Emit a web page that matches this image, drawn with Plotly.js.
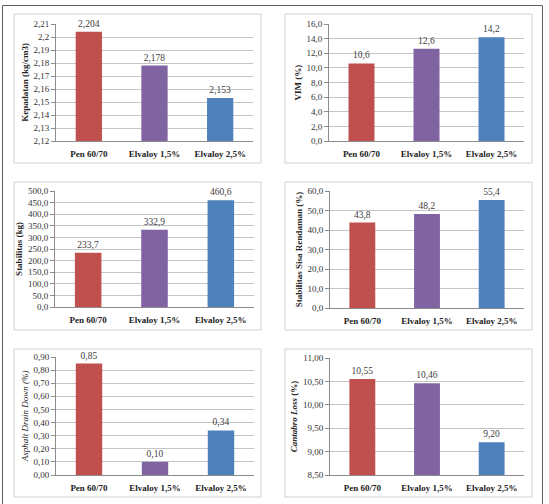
<!DOCTYPE html>
<html>
<head>
<meta charset="utf-8">
<script src="https://cdn.plot.ly/plotly-3.0.1.min.js"></script>
<style>html,body{margin:0;padding:0;background:#fff;}#chart{width:549px;height:504px;}</style>
</head>
<body>
<div id="chart"></div>
<script>
const categories = ["Pen 60/70", "Elvaloy 1,5%", "Elvaloy 2,5%"];
const barColors = ["#C0504D", "#8064A2", "#4F81BD"];

const kepadatan = [2.204, 2.178, 2.153];
const kepadatanLabels = ["2,204", "2,178", "2,153"];
const vim = [10.6, 12.6, 14.2];
const vimLabels = ["10,6", "12,6", "14,2"];
const stabilitas = [233.7, 332.9, 460.6];
const stabilitasLabels = ["233,7", "332,9", "460,6"];
const sisaRendaman = [43.8, 48.2, 55.4];
const sisaRendamanLabels = ["43,8", "48,2", "55,4"];
const drainDown = [0.85, 0.10, 0.34];
const drainDownLabels = ["0,85", "0,10", "0,34"];
const cantabro = [10.55, 10.46, 9.20];
const cantabroLabels = ["10,55", "10,46", "9,20"];

const tick1 = [2.12,2.13,2.14,2.15,2.16,2.17,2.18,2.19,2.2,2.21];
const tick1Text = ["2,12","2,13","2,14","2,15","2,16","2,17","2,18","2,19","2,2","2,21"];
const tick2 = [0,2,4,6,8,10,12,14,16];
const tick2Text = ["0,0","2,0","4,0","6,0","8,0","10,0","12,0","14,0","16,0"];
const tick3 = [0,50,100,150,200,250,300,350,400,450,500];
const tick3Text = ["0,0","50,0","100,0","150,0","200,0","250,0","300,0","350,0","400,0","450,0","500,0"];
const tick4 = [0,10,20,30,40,50,60];
const tick4Text = ["0,0","10,0","20,0","30,0","40,0","50,0","60,0"];
const tick5 = [0,0.1,0.2,0.3,0.4,0.5,0.6,0.7,0.8,0.9];
const tick5Text = ["0,00","0,10","0,20","0,30","0,40","0,50","0,60","0,70","0,80","0,90"];
const tick6 = [8.5,9,9.5,10,10.5,11];
const tick6Text = ["8,50","9,00","9,50","10,00","10,50","11,00"];

const W = 549, H = 504;
const px = v => v / W;
const py = v => 1 - v / H;

const panels = [
  {y: kepadatan, t: kepadatanLabels, range: [2.12, 2.21], tv: tick1, tt: tick1Text,
   title: "<b>Kepadatan (kg/cm3)</b>", xd: [56, 253], yd: [24, 141], box: [14, 14, 261, 163]},
  {y: vim, t: vimLabels, range: [0, 16], tv: tick2, tt: tick2Text,
   title: "<b>VIM (%)</b>", xd: [329, 524], yd: [24, 141], box: [285, 14, 532, 163]},
  {y: stabilitas, t: stabilitasLabels, range: [0, 500], tv: tick3, tt: tick3Text,
   title: "<b>Stabilitas (kg)</b>", xd: [55, 254], yd: [191, 307], box: [14, 182, 261, 330]},
  {y: sisaRendaman, t: sisaRendamanLabels, range: [0, 60], tv: tick4, tt: tick4Text,
   title: "<b>Stabilitas Sisa Rendaman (%)</b>", xd: [330, 524], yd: [191, 308], box: [285, 182, 532, 330]},
  {y: drainDown, t: drainDownLabels, range: [0, 0.9], tv: tick5, tt: tick5Text,
   title: "<i>Asphalt Drain Down (%)</i>", xd: [56, 254], yd: [357, 475], box: [14, 349, 261, 497]},
  {y: cantabro, t: cantabroLabels, range: [8.5, 11], tv: tick6, tt: tick6Text,
   title: "<b><i>Cantabro Loss</i> (%)</b>", xd: [330, 524], yd: [358, 475], box: [285, 349, 532, 497]}
];

const serif = "Liberation Serif";
const traces = [];
const layout = {
  width: W, height: H,
  margin: {l: 0, r: 0, t: 0, b: 0},
  paper_bgcolor: "#ffffff",
  plot_bgcolor: "rgba(0,0,0,0)",
  showlegend: false,
  bargap: 0.6,
  font: {family: serif, color: "#333333", size: 9},
  shapes: [],
};

panels.forEach((p, i) => {
  const n = i + 1;
  const xa = n === 1 ? "x" : "x" + n;
  const ya = n === 1 ? "y" : "y" + n;
  traces.push({
    type: "bar", x: categories, y: p.y, text: p.t,
    textposition: "outside", cliponaxis: false,
    textfont: {family: serif, size: 9.5, color: "#404040"},
    marker: {color: barColors},
    xaxis: xa, yaxis: ya, hoverinfo: "none"
  });
  const xkey = n === 1 ? "xaxis" : "xaxis" + n;
  const ykey = n === 1 ? "yaxis" : "yaxis" + n;
  layout[xkey] = {
    domain: [px(p.xd[0]), px(p.xd[1])], anchor: ya, type: "category",
    showline: true, linecolor: "#8c8c8c", linewidth: 1,
    ticks: "", showgrid: false, fixedrange: true,
    tickfont: {family: serif, size: 9, color: "#222222", weight: "bold"},
    ticklabelstandoff: 4
  };
  layout[ykey] = {
    domain: [py(p.yd[1]), py(p.yd[0])], anchor: xa,
    range: p.range, tickmode: "array", tickvals: p.tv, ticktext: p.tt,
    showline: true, linecolor: "#8c8c8c", linewidth: 1,
    ticks: "outside", ticklen: 4, tickcolor: "#8c8c8c",
    showgrid: true, gridcolor: "#c4c4c4", gridwidth: 1,
    zeroline: false, fixedrange: true,
    tickfont: {family: serif, size: 9, color: "#333333"},
    title: {text: p.title, font: {family: serif, size: 9, color: "#222222"}, standoff: 3}
  };
  layout.shapes.push({
    type: "rect", xref: "paper", yref: "paper",
    x0: px(p.box[0]), x1: px(p.box[2]), y0: py(p.box[3]), y1: py(p.box[1]),
    line: {color: "#d0d0d0", width: 1}, fillcolor: "rgba(0,0,0,0)", layer: "below"
  });
});

// outer frame (left, top, right)
layout.shapes.push({type: "line", xref: "paper", yref: "paper", x0: px(2.5), x1: px(2.5), y0: 0, y1: py(5.5), line: {color: "#606060", width: 1}});
layout.shapes.push({type: "line", xref: "paper", yref: "paper", x0: px(2.5), x1: px(542.5), y0: py(5.5), y1: py(5.5), line: {color: "#606060", width: 1}});
layout.shapes.push({type: "line", xref: "paper", yref: "paper", x0: px(542.5), x1: px(542.5), y0: 0, y1: py(5.5), line: {color: "#606060", width: 1}});

Plotly.newPlot("chart", traces, layout, {displayModeBar: false, staticPlot: true});
</script>
</body>
</html>
